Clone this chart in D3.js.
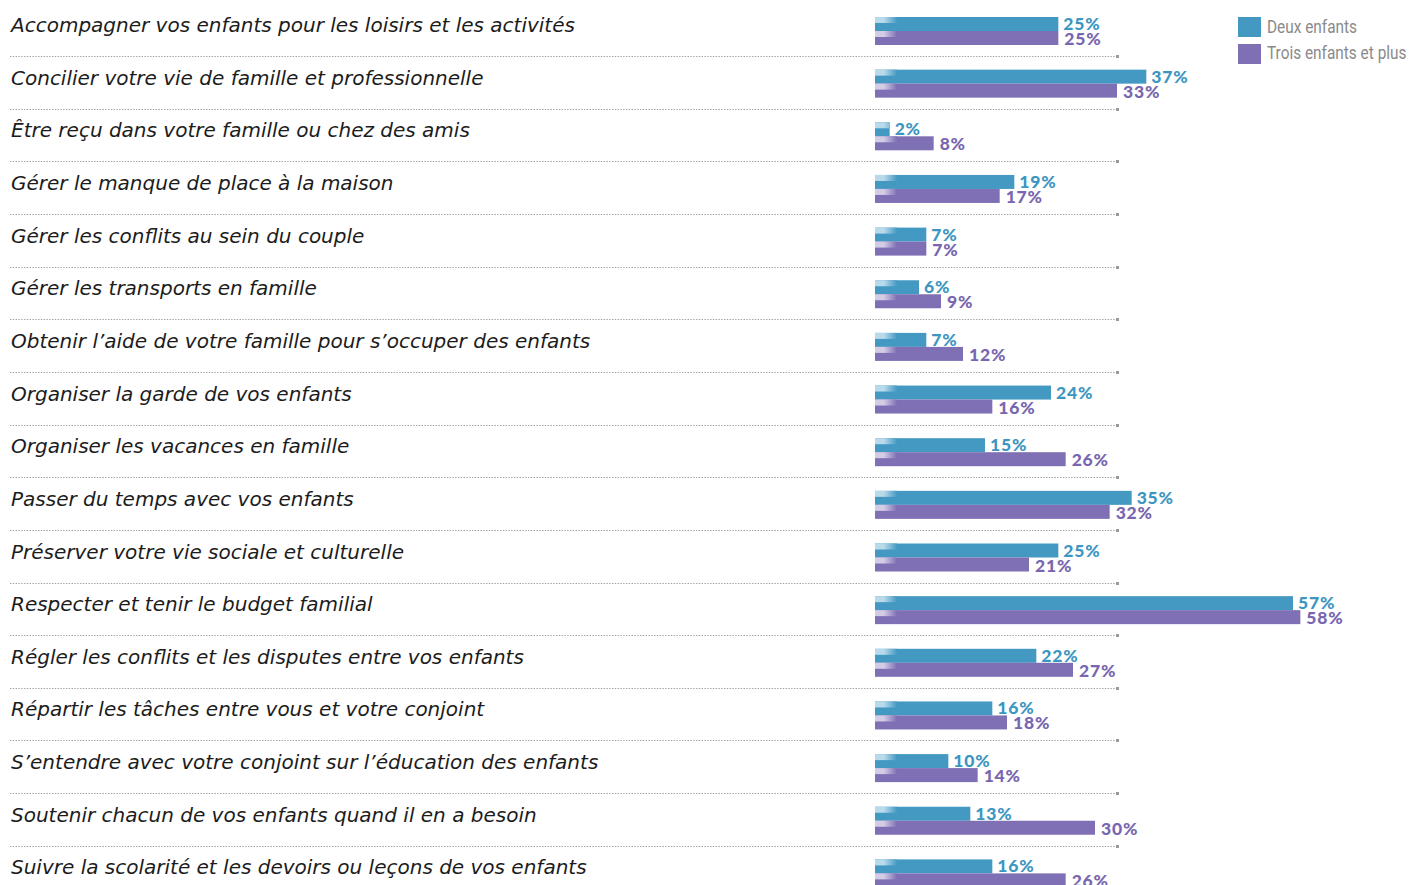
<!DOCTYPE html>
<meta charset="utf-8">
<style>
body { margin: 0; background: #fff; }
.cat { font-family: "DejaVu Sans", sans-serif; font-style: italic; font-size: 20px; fill: #1c1c1c; }
.val { font-family: Lato, sans-serif; font-weight: 900; font-size: 17.5px; letter-spacing: 0.8px; }
.leg { font-family: Roboto, sans-serif; font-size: 17.5px; fill: #8a8a8a; }
.sep { stroke: #a0a0a0; stroke-width: 1; stroke-dasharray: 1.4,1.4; }
</style>
<body>
<script src="https://d3js.org/d3.v7.min.js"></script>
<script>
// data
var categories = [
  "Accompagner vos enfants pour les loisirs et les activités",
  "Concilier votre vie de famille et professionnelle",
  "Être reçu dans votre famille ou chez des amis",
  "Gérer le manque de place à la maison",
  "Gérer les conflits au sein du couple",
  "Gérer les transports en famille",
  "Obtenir l’aide de votre famille pour s’occuper des enfants",
  "Organiser la garde de vos enfants",
  "Organiser les vacances en famille",
  "Passer du temps avec vos enfants",
  "Préserver votre vie sociale et culturelle",
  "Respecter et tenir le budget familial",
  "Régler les conflits et les disputes entre vos enfants",
  "Répartir les tâches entre vous et votre conjoint",
  "S’entendre avec votre conjoint sur l’éducation des enfants",
  "Soutenir chacun de vos enfants quand il en a besoin",
  "Suivre la scolarité et les devoirs ou leçons de vos enfants"
];
var deuxEnfants = [25, 37, 2, 19, 7, 6, 7, 24, 15, 35, 25, 57, 22, 16, 10, 13, 16];
var troisEnfants = [25, 33, 8, 17, 7, 9, 12, 16, 26, 32, 21, 58, 27, 18, 14, 30, 26];
var seriesNames = ["Deux enfants", "Trois enfants et plus"];

var colors = ["#4499c3", "#7f6fb4"];
var light = ["#b9daeb", "#d3cce5"];
var labelColors = ["#3d96c2", "#7866b0"];

var width = 1411, height = 885;
var barH = 14;

var svg = d3.select("body").append("svg")
    .attr("width", width)
    .attr("height", height);

// scales
var x = d3.scaleLinear().domain([0, 60]).range([875, 875 + 440]);
var y = d3.scaleBand().domain(d3.range(categories.length))
    .range([17, 17 + 52.65 * categories.length]).paddingInner(0).paddingOuter(0);

// gradients for the little highlight at the start of each bar
var defs = svg.append("defs");
colors.forEach(function(c, k) {
  var g = defs.append("linearGradient")
      .attr("id", "hl" + k)
      .attr("gradientUnits", "userSpaceOnUse")
      .attr("x1", x(0)).attr("x2", x(0) + 22).attr("y1", 0).attr("y2", 0);
  g.append("stop").attr("offset", 0).attr("stop-color", light[k]);
  g.append("stop").attr("offset", 0.4).attr("stop-color", light[k]);
  g.append("stop").attr("offset", 1).attr("stop-color", c);
});

// separators
var seps = svg.append("g");
d3.range(categories.length - 1).forEach(function(i) {
  var yy = Math.round(y(i) + 39) + 0.5;
  seps.append("line").attr("class", "sep")
      .attr("x1", 10).attr("x2", 1115).attr("y1", yy).attr("y2", yy);
  seps.append("rect").attr("x", 1116).attr("y", yy - 1.5)
      .attr("width", 3).attr("height", 3).attr("fill", "#999");
});

// category labels
svg.append("g").selectAll("text")
    .data(categories)
  .enter().append("text")
    .attr("class", "cat")
    .attr("x", 11)
    .attr("y", function(d, i) { return y(i) + 15; })
    .text(function(d) { return d; });

// bars
var series = [deuxEnfants, troisEnfants];
series.forEach(function(vals, k) {
  var g = svg.append("g");
  g.selectAll("rect.bar")
      .data(vals)
    .enter().append("rect")
      .attr("class", "bar")
      .attr("x", x(0))
      .attr("y", function(d, i) { return y(i) + k * barH; })
      .attr("width", function(d) { return x(d) - x(0); })
      .attr("height", barH)
      .attr("fill", colors[k]);
  // highlight on upper part of the bar start
  g.selectAll("rect.hl")
      .data(vals)
    .enter().append("rect")
      .attr("class", "hl")
      .attr("x", x(0))
      .attr("y", function(d, i) { return y(i) + k * barH; })
      .attr("width", function(d) { return Math.min(22, x(d) - x(0)); })
      .attr("height", 6)
      .attr("fill", "url(#hl" + k + ")");
  g.selectAll("text")
      .data(vals)
    .enter().append("text")
      .attr("class", "val")
      .attr("x", function(d) { return x(d) + 5 + k; })
      .attr("y", function(d, i) { return y(i) + 13 + k * 15; })
      .attr("fill", labelColors[k])
      .text(function(d) { return d + "%"; });
});

// legend (condensed look via a horizontal squeeze)
var leg = svg.append("g");
seriesNames.forEach(function(n, k) {
  leg.append("rect")
      .attr("x", 1238).attr("y", 17 + k * 27)
      .attr("width", 23).attr("height", 20)
      .attr("fill", colors[k]);
  leg.append("text").attr("class", "leg")
      .attr("transform", "translate(1267," + (33 + k * 26) + ") scale(0.88,1)")
      .text(n);
});
</script>
</body>
